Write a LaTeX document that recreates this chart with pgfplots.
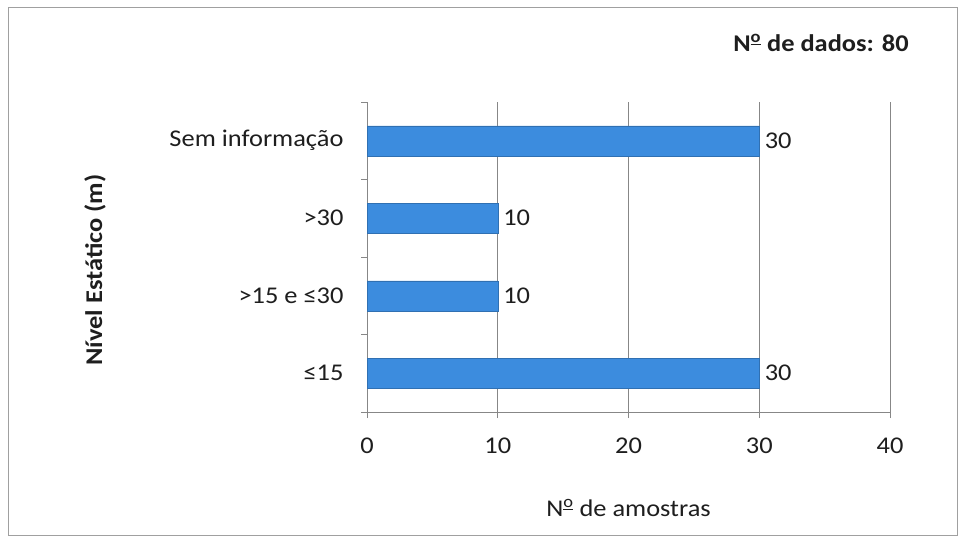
\documentclass[border=0pt]{standalone}
\usepackage{pgfplots}
\pgfplotsset{compat=1.18}
\usepackage{fontspec}
\setmainfont[FakeStretch=1.1]{Carlito}
\definecolor{barblue}{RGB}{60,140,222}
\definecolor{framegray}{RGB}{160,160,160}
\definecolor{axisgray}{RGB}{135,135,135}
\definecolor{textgray}{RGB}{30,30,30}
% numero sign with underlined superscript o
\newcommand{\nro}{N\textsuperscript{\underline{o}}}

\begin{document}
\begin{tikzpicture}[x=1pt,y=1pt]
\useasboundingbox (0,0) rectangle (960,539);
\fill[white] (0,0) rectangle (960,539);
\draw[framegray, line width=1pt] (8,4) rectangle (957,531);
\begin{axis}[
  at={(367pt,127pt)}, anchor=south west,
  scale only axis, width=523pt, height=310pt,
  xbar, bar width=30pt,
  xmin=0, xmax=40, ymin=-0.5, ymax=3.5,
  axis x line*=bottom, axis y line*=left,
  axis line style={axisgray, line width=0.8pt},
  xtick={0,10,20,30,40},
  xmajorgrids, grid style={axisgray, line width=0.6pt},
  tick style={axisgray, line width=0.8pt},
  major tick length=6pt,
  tick align=outside,
  ytick={-0.5,0.5,1.5,2.5,3.5},
  yticklabels={},
  extra y ticks={0,1,2,3},
  extra y tick labels={≤15, >15 e ≤30, >30, Sem informação},
  extra y tick style={major tick length=0pt, yticklabel style={xshift=-20pt}},
  /pgf/number format/assume math mode=true,
  every tick label/.append style={font=\fontsize{24}{28}\selectfont, text=textgray},
  xticklabel style={yshift=-16pt},
  xlabel={\nro{} de amostras},
  xlabel style={at={(axis description cs:0.5,-0.31)}, anchor=center, font=\fontsize{24}{28}\selectfont, text=textgray},
  ylabel={\bfseries Nível Estático (m)},
  ylabel style={at={(axis description cs:-0.52,0.458)}, anchor=center, font=\fontsize{24}{28}\selectfont, text=textgray},
  nodes near coords,
  nodes near coords style={anchor=west, xshift=2pt, font=\fontsize{24}{28}\selectfont, text=textgray},
]
\addplot[fill=barblue, draw=barblue!80!black, line width=0.4pt] coordinates {(30,0) (10,1) (10,2) (30,3)};
\end{axis}
\node[font=\fontsize{24}{28}\selectfont\bfseries, text=textgray] at (821,496) {\nro{} de dados: 80};
\end{tikzpicture}
\end{document}
